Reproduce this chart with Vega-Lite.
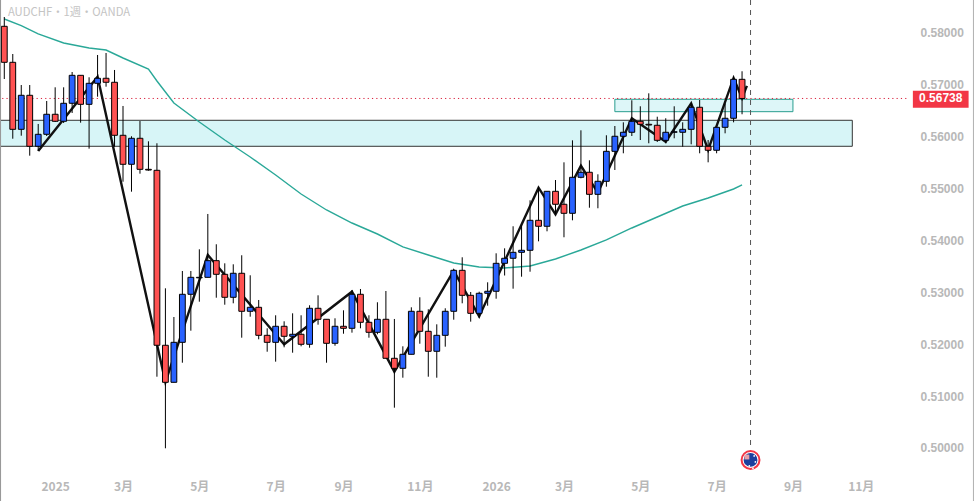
{"$schema":"https://vega.github.io/schema/vega-lite/v6.json","width":974,"height":501,"padding":0,"autosize":{"type":"none"},"background":"white","config":{"view":{"stroke":null},"font":"Noto Sans CJK JP"},
"datasets":{
"candles":[
{"date":"2024-11-25","o":0.58129,"h":0.58308,"l":0.57113,"c":0.57435},
{"date":"2024-12-02","o":0.57435,"h":0.57595,"l":0.55962,"c":0.56143},
{"date":"2024-12-09","o":0.56143,"h":0.56997,"l":0.5602,"c":0.56799},
{"date":"2024-12-16","o":0.56799,"h":0.56997,"l":0.55635,"c":0.55816},
{"date":"2024-12-23","o":0.55816,"h":0.56246,"l":0.55725,"c":0.56047},
{"date":"2024-12-30","o":0.56047,"h":0.56689,"l":0.56014,"c":0.56433},
{"date":"2025-01-06","o":0.56433,"h":0.56953,"l":0.56284,"c":0.56298},
{"date":"2025-01-13","o":0.56298,"h":0.56953,"l":0.56265,"c":0.56645},
{"date":"2025-01-20","o":0.56645,"h":0.57248,"l":0.56458,"c":0.57184},
{"date":"2025-01-27","o":0.57184,"h":0.57184,"l":0.56271,"c":0.56625},
{"date":"2025-02-03","o":0.56625,"h":0.57146,"l":0.5577,"c":0.5703},
{"date":"2025-02-10","o":0.5703,"h":0.57576,"l":0.56772,"c":0.57127},
{"date":"2025-02-17","o":0.57127,"h":0.57614,"l":0.56965,"c":0.5705},
{"date":"2025-02-24","o":0.5705,"h":0.57287,"l":0.55808,"c":0.56028},
{"date":"2025-03-03","o":0.56028,"h":0.56593,"l":0.55133,"c":0.55469},
{"date":"2025-03-10","o":0.55469,"h":0.56009,"l":0.54941,"c":0.5597},
{"date":"2025-03-17","o":0.5597,"h":0.56303,"l":0.55288,"c":0.55372},
{"date":"2025-03-24","o":0.55372,"h":0.55912,"l":0.55345,"c":0.55358},
{"date":"2025-03-31","o":0.55353,"h":0.55874,"l":0.51374,"c":0.5198},
{"date":"2025-04-07","o":0.5198,"h":0.53078,"l":0.49994,"c":0.51266},
{"date":"2025-04-14","o":0.51266,"h":0.52525,"l":0.51266,"c":0.52037},
{"date":"2025-04-21","o":0.52037,"h":0.53412,"l":0.51644,"c":0.52963},
{"date":"2025-04-28","o":0.52963,"h":0.53412,"l":0.52261,"c":0.5329},
{"date":"2025-05-05","o":0.5328,"h":0.5383,"l":0.5282,"c":0.5329},
{"date":"2025-05-12","o":0.5329,"h":0.54511,"l":0.5329,"c":0.53611},
{"date":"2025-05-19","o":0.53611,"h":0.53927,"l":0.52897,"c":0.53348},
{"date":"2025-05-26","o":0.53348,"h":0.5356,"l":0.52762,"c":0.52905},
{"date":"2025-06-02","o":0.52905,"h":0.53541,"l":0.52789,"c":0.53368},
{"date":"2025-06-09","o":0.53368,"h":0.53715,"l":0.52126,"c":0.52635},
{"date":"2025-06-16","o":0.52635,"h":0.53329,"l":0.52531,"c":0.52712},
{"date":"2025-06-23","o":0.52712,"h":0.52853,"l":0.52095,"c":0.52172},
{"date":"2025-06-30","o":0.52172,"h":0.52307,"l":0.51856,"c":0.52037},
{"date":"2025-07-07","o":0.52037,"h":0.52558,"l":0.51664,"c":0.52346},
{"date":"2025-07-14","o":0.52346,"h":0.52442,"l":0.51941,"c":0.52153},
{"date":"2025-07-21","o":0.52153,"h":0.52596,"l":0.51837,"c":0.52192},
{"date":"2025-07-28","o":0.52192,"h":0.52558,"l":0.5196,"c":0.51999},
{"date":"2025-08-04","o":0.51999,"h":0.52751,"l":0.51933,"c":0.52693},
{"date":"2025-08-11","o":0.52693,"h":0.52943,"l":0.52377,"c":0.52481},
{"date":"2025-08-18","o":0.52481,"h":0.52481,"l":0.51644,"c":0.52018},
{"date":"2025-08-25","o":0.52018,"h":0.525,"l":0.51972,"c":0.52346},
{"date":"2025-09-01","o":0.52346,"h":0.52654,"l":0.52203,"c":0.52307},
{"date":"2025-09-08","o":0.52307,"h":0.53046,"l":0.52223,"c":0.52963},
{"date":"2025-09-15","o":0.52963,"h":0.53065,"l":0.52307,"c":0.52423},
{"date":"2025-09-22","o":0.52423,"h":0.52558,"l":0.52126,"c":0.5223},
{"date":"2025-09-29","o":0.5223,"h":0.52809,"l":0.52192,"c":0.52481},
{"date":"2025-10-06","o":0.52481,"h":0.53026,"l":0.51729,"c":0.51729},
{"date":"2025-10-13","o":0.51729,"h":0.52487,"l":0.50777,"c":0.51536},
{"date":"2025-10-20","o":0.51536,"h":0.5196,"l":0.51355,"c":0.51806},
{"date":"2025-10-27","o":0.51806,"h":0.52712,"l":0.51806,"c":0.52635},
{"date":"2025-11-03","o":0.52635,"h":0.52905,"l":0.5201,"c":0.52249},
{"date":"2025-11-10","o":0.52249,"h":0.52674,"l":0.51374,"c":0.51864},
{"date":"2025-11-17","o":0.51864,"h":0.52384,"l":0.51355,"c":0.52172},
{"date":"2025-11-24","o":0.52172,"h":0.52693,"l":0.51953,"c":0.52635},
{"date":"2025-12-01","o":0.52635,"h":0.53425,"l":0.52473,"c":0.53425},
{"date":"2025-12-08","o":0.53425,"h":0.53676,"l":0.52789,"c":0.52943},
{"date":"2025-12-15","o":0.52943,"h":0.53007,"l":0.52435,"c":0.52596},
{"date":"2025-12-22","o":0.52596,"h":0.53013,"l":0.52512,"c":0.52982},
{"date":"2025-12-29","o":0.52982,"h":0.53194,"l":0.52743,"c":0.53021},
{"date":"2026-01-05","o":0.53021,"h":0.53753,"l":0.52878,"c":0.5356},
{"date":"2026-01-12","o":0.5356,"h":0.53849,"l":0.53325,"c":0.53657},
{"date":"2026-01-19","o":0.53657,"h":0.54274,"l":0.53071,"c":0.53772},
{"date":"2026-01-26","o":0.53772,"h":0.54293,"l":0.53302,"c":0.53811},
{"date":"2026-02-02","o":0.53811,"h":0.54775,"l":0.53398,"c":0.54389},
{"date":"2026-02-09","o":0.54389,"h":0.55025,"l":0.53984,"c":0.54274},
{"date":"2026-02-16","o":0.54274,"h":0.54948,"l":0.54177,"c":0.54948},
{"date":"2026-02-23","o":0.54948,"h":0.55166,"l":0.54505,"c":0.54698},
{"date":"2026-03-02","o":0.54698,"h":0.55507,"l":0.54062,"c":0.54524},
{"date":"2026-03-09","o":0.54524,"h":0.55931,"l":0.54389,"c":0.55218},
{"date":"2026-03-16","o":0.55218,"h":0.56124,"l":0.55199,"c":0.55315},
{"date":"2026-03-23","o":0.55315,"h":0.55546,"l":0.54632,"c":0.5489},
{"date":"2026-03-30","o":0.5489,"h":0.55276,"l":0.54621,"c":0.55141},
{"date":"2026-04-06","o":0.55141,"h":0.56028,"l":0.55037,"c":0.55719},
{"date":"2026-04-13","o":0.55719,"h":0.56207,"l":0.55359,"c":0.56009},
{"date":"2026-04-20","o":0.56009,"h":0.56278,"l":0.55681,"c":0.56086},
{"date":"2026-04-27","o":0.56086,"h":0.56703,"l":0.56014,"c":0.56298},
{"date":"2026-05-04","o":0.56298,"h":0.56587,"l":0.55937,"c":0.5624},
{"date":"2026-05-11","o":0.5624,"h":0.56837,"l":0.55874,"c":0.56226},
{"date":"2026-05-18","o":0.56221,"h":0.56386,"l":0.55899,"c":0.55931},
{"date":"2026-05-25","o":0.55931,"h":0.56356,"l":0.55874,"c":0.56086},
{"date":"2026-06-01","o":0.56086,"h":0.56587,"l":0.5597,"c":0.56096},
{"date":"2026-06-08","o":0.56086,"h":0.56278,"l":0.55808,"c":0.56143},
{"date":"2026-06-15","o":0.56143,"h":0.56645,"l":0.55854,"c":0.56568},
{"date":"2026-06-22","o":0.56568,"h":0.56708,"l":0.55681,"c":0.55816},
{"date":"2026-06-29","o":0.55816,"h":0.55937,"l":0.55507,"c":0.55739},
{"date":"2026-07-06","o":0.55739,"h":0.56182,"l":0.55681,"c":0.56182},
{"date":"2026-07-13","o":0.56182,"h":0.56645,"l":0.56066,"c":0.56356},
{"date":"2026-07-20","o":0.56356,"h":0.57157,"l":0.56278,"c":0.57107},
{"date":"2026-07-27","o":0.57107,"h":0.57262,"l":0.56433,"c":0.56738}
],
"zigzag":[
{"date":"2024-12-23","p":0.55725},{"date":"2025-02-10","p":0.57157},{"date":"2025-04-07","p":0.51266},{"date":"2025-05-12","p":0.53721},{"date":"2025-07-14","p":0.52},{"date":"2025-09-08","p":0.53013},{"date":"2025-10-13","p":0.51471},{"date":"2025-12-01","p":0.53418},{"date":"2025-12-22","p":0.52536},{"date":"2026-02-09","p":0.55018},{"date":"2026-02-23","p":0.54505},{"date":"2026-03-16","p":0.55441},{"date":"2026-03-30","p":0.5492},{"date":"2026-04-27","p":0.56356},{"date":"2026-05-25","p":0.55904},{"date":"2026-06-15","p":0.56645},{"date":"2026-06-29","p":0.55744},{"date":"2026-07-20","p":0.57133},{"date":"2026-07-27","p":0.56747},{"date":"2026-07-31","p":0.5698}
],
"ema":[
{"date":"2024-11-25","p":0.5827},{"date":"2024-12-09","p":0.58144},{"date":"2024-12-23","p":0.57981},{"date":"2025-01-13","p":0.57807},{"date":"2025-02-03","p":0.57711},{"date":"2025-02-17","p":0.57672},{"date":"2025-03-03","p":0.57518},{"date":"2025-03-24","p":0.57306},{"date":"2025-03-31","p":0.57075},{"date":"2025-04-14","p":0.5665},{"date":"2025-05-05","p":0.56284},{"date":"2025-05-26","p":0.55937},{"date":"2025-06-16","p":0.5561},{"date":"2025-07-07","p":0.55263},{"date":"2025-07-28","p":0.54896},{"date":"2025-08-18","p":0.54588},{"date":"2025-09-08","p":0.54337},{"date":"2025-09-29","p":0.54125},{"date":"2025-10-20","p":0.53875},{"date":"2025-11-10","p":0.5372},{"date":"2025-12-01","p":0.53566},{"date":"2025-12-22","p":0.53489},{"date":"2026-01-12","p":0.5347},{"date":"2026-02-02","p":0.53508},{"date":"2026-02-23","p":0.53643},{"date":"2026-03-16","p":0.53817},{"date":"2026-04-06","p":0.5401},{"date":"2026-04-27","p":0.54241},{"date":"2026-05-18","p":0.54453},{"date":"2026-06-08","p":0.54665},{"date":"2026-06-29","p":0.54819},{"date":"2026-07-20","p":0.54993},{"date":"2026-07-27","p":0.5507}
]
},
"layer":[
{"data":{"values":[{"start":"2024-10-01","end":"2026-10-26","top":0.56317,"bottom":0.55816}]},"mark":{"type":"rect","fill":"#d7f5f7","stroke":"#333333","strokeWidth":1,"clip":true},"encoding":{
"x":{"field":"start","type":"temporal","scale":{"type":"utc","nice":false,"padding":0,"domain":[{"year":2024,"month":11,"date":21,"hours":11,"utc":true},{"year":2027,"month":2,"date":3,"hours":11,"utc":true}]},"axis":{"title":null,"orient":"bottom","offset":-20,"domain":false,"ticks":false,"grid":false,"labelPadding":0,"labelFontSize":12,"labelColor":"#b8b8b8","labelFont":"Noto Sans CJK JP","labelFontWeight":"bold","labelOverlap":false,"labelFlush":false,"values":[1736121600000,1740960000000,1746403200000,1751846400000,1756684800000,1762128000000,1767571200000,1772409600000,1777852800000,1783296000000,1788739200000,1793577600000],"labelExpr":"utcmonth(datum.value)==0 ? ''+utcyear(datum.value) : (utcmonth(datum.value)+1)+'月'"}},
"x2":{"field":"end"},
"y":{"field":"top","type":"quantitative","scale":{"domain":[0.48978,0.58636],"zero":false,"nice":false},"axis":{"title":null,"orient":"right","offset":-54,"domain":false,"ticks":false,"grid":false,"labelPadding":0,"labelFontSize":12,"labelColor":"#b8b8b8","labelFont":"Liberation Sans","labelFontWeight":"bold","values":[0.5,0.51,0.52,0.53,0.54,0.55,0.56,0.57,0.58],"format":".5f"}},
"y2":{"field":"bottom"}}},
{"data":{"values":[{"start":"2026-04-13","end":"2026-09-07","top":0.56722,"bottom":0.56483}]},"mark":{"type":"rect","fill":"#d7f5f7","fillOpacity":0.85,"stroke":"#2a9d8f","strokeWidth":1},"encoding":{"x":{"field":"start","type":"temporal"},"x2":{"field":"end"},"y":{"field":"top","type":"quantitative"},"y2":{"field":"bottom"}}},
{"data":{"values":[{"start":"2024-10-01","end":"2026-12-12","p":0.56738}]},"mark":{"type":"rule","color":"#d8203c","strokeWidth":1,"strokeDash":[1.2,3.1],"clip":true},"encoding":{"x":{"field":"start","type":"temporal"},"x2":{"field":"end"},"y":{"field":"p","type":"quantitative"}}},
{"data":{"name":"ema"},"mark":{"type":"line","color":"#2aa898","strokeWidth":1.4},"encoding":{"x":{"field":"date","type":"temporal"},"y":{"field":"p","type":"quantitative"}}},
{"data":{"name":"zigzag"},"mark":{"type":"line","color":"#111111","strokeWidth":2.4},"encoding":{"x":{"field":"date","type":"temporal"},"y":{"field":"p","type":"quantitative"}}},
{"data":{"name":"candles"},"mark":{"type":"rule","color":"#000000","strokeWidth":1},"encoding":{"x":{"field":"date","type":"temporal"},"y":{"field":"l","type":"quantitative"},"y2":{"field":"h"}}},
{"data":{"name":"candles"},"mark":{"type":"bar","size":5.8,"stroke":"#000000","strokeWidth":1},"encoding":{"x":{"field":"date","type":"temporal"},"y":{"field":"o","type":"quantitative"},"y2":{"field":"c"},"color":{"condition":{"test":"datum.c>=datum.o","value":"#2962ff"},"value":"#ff5252"}}},
{"data":{"values":[{"date":"2026-08-03","top":0.58636,"bottom":0.49961}]},"mark":{"type":"rule","color":"#555555","strokeWidth":1,"strokeDash":[5,5]},"encoding":{"x":{"field":"date","type":"temporal"},"y":{"field":"top","type":"quantitative"},"y2":{"field":"bottom"}}},
{"data":{"values":[{"date":"2026-08-03","p":0.49769}]},"mark":{"type":"point","shape":"circle","filled":true,"fill":"#ffffff","stroke":"#f23645","strokeWidth":2,"size":320,"opacity":1},"encoding":{"x":{"field":"date","type":"temporal"},"y":{"field":"p","type":"quantitative"}}},
{"data":{"values":[{"date":"2026-08-03","p":0.49769}]},"mark":{"type":"point","shape":"circle","filled":true,"fill":"#1a3f9e","size":190,"opacity":1},"encoding":{"x":{"field":"date","type":"temporal"},"y":{"field":"p","type":"quantitative"}}},
{"data":{"values":[{"date":"2026-07-31","p":0.49826}]},"mark":{"type":"point","shape":"square","filled":true,"fill":"#e8a0a8","size":24,"opacity":1},"encoding":{"x":{"field":"date","type":"temporal"},"y":{"field":"p","type":"quantitative"}}},
{"data":{"values":[{"date":"2026-08-06","p":0.49846},{"date":"2026-08-07","p":0.4973},{"date":"2026-08-02","p":0.49653},{"date":"2026-08-05","p":0.4961}]},"mark":{"type":"point","shape":"circle","filled":true,"fill":"#ffffff","size":3,"opacity":1},"encoding":{"x":{"field":"date","type":"temporal"},"y":{"field":"p","type":"quantitative"}}},
{"data":{"values":[{"start":"2026-12-15","end":"2027-01-30","top":0.56888,"bottom":0.5656}]},"mark":{"type":"rect","fill":"#f23645"},"encoding":{"x":{"field":"start","type":"temporal"},"x2":{"field":"end"},"y":{"field":"top","type":"quantitative"},"y2":{"field":"bottom"}}},
{"data":{"values":[{"date":"2027-01-07","p":0.56738,"label":"0.56738"}]},"mark":{"type":"text","color":"#ffffff","font":"Liberation Sans","fontSize":12,"fontWeight":"bold","align":"center","baseline":"middle"},"encoding":{"x":{"field":"date","type":"temporal"},"y":{"field":"p","type":"quantitative"},"text":{"field":"label"}}},
{"data":{"values":[{"date":"2024-11-28","p":0.58395,"label":"AUDCHF・1週・OANDA"}]},"mark":{"type":"text","color":"#c4c4c4","font":"Noto Sans CJK JP","fontSize":11.3,"align":"left","baseline":"middle"},"encoding":{"x":{"field":"date","type":"temporal"},"y":{"field":"p","type":"quantitative"},"text":{"field":"label"}}},
{"data":{"values":[{"date":"2024-11-21T12:00:00Z"}]},"mark":{"type":"rule","color":"#999999","strokeWidth":2},"encoding":{"x":{"field":"date","type":"temporal"}}},
{"data":{"values":[{"date":"2027-02-03T00:00:00Z"}]},"mark":{"type":"rule","color":"#b0b0b0","strokeWidth":1},"encoding":{"x":{"field":"date","type":"temporal"}}}
]}
